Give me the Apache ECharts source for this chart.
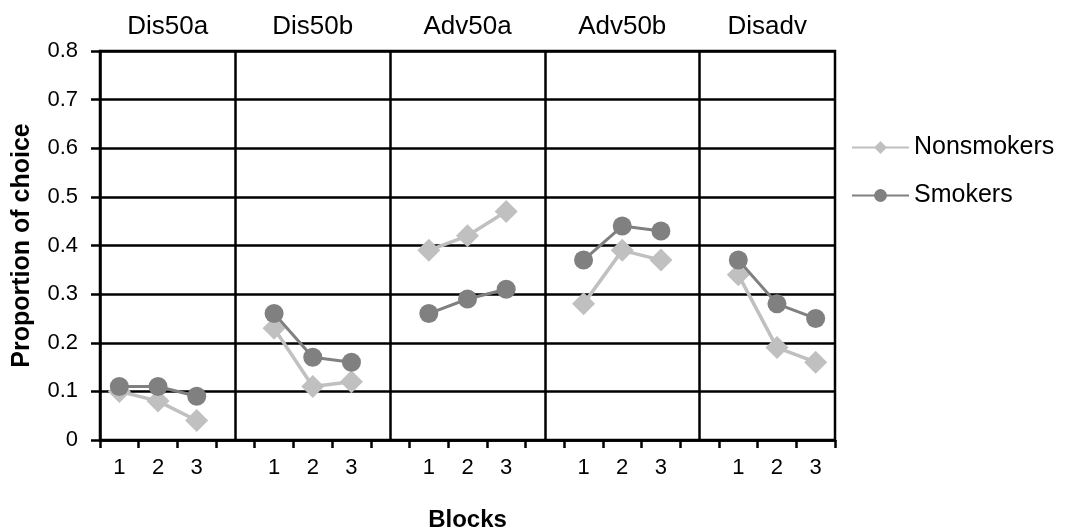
<!DOCTYPE html>
<html>
<head>
<meta charset="utf-8">
<script src="https://cdn.jsdelivr.net/npm/echarts@6/dist/echarts.min.js"></script>
<style>
  html, body { margin: 0; padding: 0; background: #fff; }
  #chart { width: 1065px; height: 530px; }
</style>
</head>
<body>
<div id="chart"></div>
<script>
// panels (conditions) and blocks within each panel
const panels = ['Dis50a', 'Dis50b', 'Adv50a', 'Adv50b', 'Disadv']
const blocks = ['1', '2', '3']

// proportion of choice, one row per panel, one value per block
const nonsmokers = [
  [0.10, 0.08, 0.04],
  [0.23, 0.11, 0.12],
  [0.39, 0.42, 0.47],
  [0.28, 0.39, 0.37],
  [0.34, 0.19, 0.16]
]
const smokers = [
  [0.11, 0.11, 0.09],
  [0.26, 0.17, 0.16],
  [0.26, 0.29, 0.31],
  [0.37, 0.44, 0.43],
  [0.37, 0.28, 0.25]
]

const FONT = 'Arial, "Liberation Sans", sans-serif'

// flatten panels into one category axis, with an empty gap slot between panels
const categories = []
const gapIndex = []
const panelCenter = []
panels.forEach((p, i) => {
  const start = categories.length
  blocks.forEach(b => categories.push(p + '|' + b))
  if (i < panels.length - 1) {
    gapIndex.push(categories.length)
    categories.push(p + '|gap')
  }
  const lo = i === 0 ? 0 : start - 0.5
  const hi = i === panels.length - 1 ? start + blocks.length : start + blocks.length + 0.5
  panelCenter.push((lo + hi) / 2)
})

const flatten = rows => {
  const out = []
  rows.forEach((r, i) => {
    r.forEach(v => out.push(v))
    if (i < rows.length - 1) out.push(null)
  })
  return out
}

const chart = echarts.init(document.getElementById('chart'))

chart.setOption({
  animation: false,
  textStyle: { fontFamily: FONT },
  grid: {
    left: 100, right: 230, top: 51, bottom: 90,
    outerBoundsMode: 'none',
    containLabel: false,
    show: true, borderColor: '#000', borderWidth: 2.5, backgroundColor: 'transparent'
  },
  legend: {
    orient: 'vertical',
    left: 846,
    top: 130,
    itemWidth: 57,
    itemHeight: 16,
    itemGap: 23,
    textStyle: { fontSize: 25, color: '#000', fontFamily: FONT },
    data: ['Nonsmokers', 'Smokers']
  },
  xAxis: [
    {
      type: 'category',
      data: categories,
      name: 'Blocks',
      nameLocation: 'middle',
      nameGap: 68,
      nameTextStyle: { fontSize: 24, fontWeight: 'bold', color: '#000' },
      axisLine: { lineStyle: { color: '#000', width: 2.5 } },
      axisTick: { show: true, length: 8, interval: 0, lineStyle: { color: '#000', width: 2.5 } },
      axisLabel: {
        interval: 0,
        fontSize: 22,
        color: '#000',
        margin: 17,
        formatter: v => {
          const b = v.split('|')[1]
          return b === 'gap' ? '' : b
        }
      },
      splitLine: { show: false }
    },
    {
      type: 'value',
      position: 'top',
      min: 0,
      max: categories.length,
      interval: 0.25,
      axisLine: { show: false },
      axisTick: { show: false },
      splitLine: { show: false },
      axisLabel: {
        fontSize: 26,
        color: '#000',
        margin: 11,
        formatter: v => {
          const i = panelCenter.findIndex(c => Math.abs(c - v) < 1e-6)
          return i >= 0 ? panels[i] : ''
        }
      }
    }
  ],
  yAxis: {
    type: 'value',
    min: 0,
    max: 0.8,
    interval: 0.1,
    name: 'Proportion of choice',
    nameLocation: 'middle',
    nameGap: 65,
    nameTextStyle: { fontSize: 25, fontWeight: 'bold', color: '#000' },
    axisLine: { show: true, lineStyle: { color: '#000', width: 2.5 } },
    axisTick: { show: true, length: 9, lineStyle: { color: '#000', width: 2.5 } },
    axisLabel: {
      fontSize: 22,
      color: '#000',
      margin: 22,
      formatter: v => (v === 0 ? '0' : v.toFixed(1))
    },
    splitLine: { show: true, lineStyle: { color: '#000', width: 2.5 } }
  },
  series: [
    {
      name: 'Nonsmokers',
      type: 'line',
      xAxisIndex: 0,
      data: flatten(nonsmokers),
      connectNulls: false,
      symbol: 'diamond',
      symbolSize: 23,
      lineStyle: { color: '#c0c0c0', width: 3.5 },
      itemStyle: { color: '#c0c0c0' },
      z: 3,
      markLine: {
        silent: true,
        symbol: 'none',
        label: { show: false },
        lineStyle: { color: '#000', width: 2.5, type: 'solid' },
        data: gapIndex.map(i => ({ xAxis: i }))
      }
    },
    {
      name: 'Smokers',
      type: 'line',
      xAxisIndex: 0,
      data: flatten(smokers),
      connectNulls: false,
      symbol: 'circle',
      symbolSize: 19,
      lineStyle: { color: '#808080', width: 3 },
      itemStyle: { color: '#808080' },
      z: 4
    }
  ]
})
</script>
</body>
</html>
